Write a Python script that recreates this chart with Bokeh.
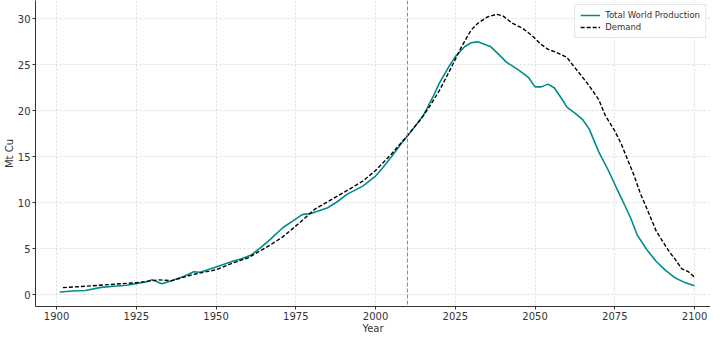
from bokeh.plotting import figure
from bokeh.models import Span, Legend, LegendItem, FixedTicker, Range1d
from bokeh.embed import file_html
from bokeh.resources import INLINE

prod_years = [1901, 1905, 1909, 1914, 1918, 1922, 1928, 1930, 1933, 1936, 1940, 1943, 1945,
              1950, 1955, 1958, 1961, 1964, 1967, 1971, 1974, 1977, 1980, 1985, 1988, 1991,
              1996, 2000, 2002, 2005, 2008, 2011, 2015, 2018, 2020, 2023, 2025, 2028, 2030,
              2032, 2036, 2039, 2041, 2045, 2048, 2050, 2052, 2054, 2056, 2058, 2060, 2063,
              2065, 2067, 2070, 2073, 2075, 2078, 2080, 2082, 2085, 2088, 2091, 2094, 2097, 2100]
prod_values = [0.27, 0.38, 0.44, 0.78, 0.9, 1.02, 1.36, 1.6, 1.18, 1.5, 2.0, 2.48, 2.43,
               3.0, 3.6, 3.9, 4.3, 5.1, 6.0, 7.3, 8.0, 8.7, 8.85, 9.45, 10.1, 10.9,
               11.8, 12.9, 13.7, 15.0, 16.4, 17.7, 19.5, 21.5, 23.0, 24.8, 25.9, 27.0, 27.4,
               27.5, 27.0, 26.0, 25.3, 24.4, 23.6, 22.6, 22.6, 22.9, 22.5, 21.5, 20.4, 19.6,
               19.0, 18.0, 15.5, 13.5, 12.0, 9.8, 8.3, 6.5, 4.9, 3.6, 2.6, 1.8, 1.3, 0.95]

dem_years = [1902, 1909, 1915, 1925, 1932, 1936, 1940, 1943, 1950, 1955, 1960, 1964, 1967,
             1971, 1976, 1981, 1985, 1991, 1996, 2000, 2005, 2010, 2014, 2017, 2020, 2023,
             2027, 2030, 2032, 2035, 2038, 2040, 2043, 2046, 2049, 2052, 2054, 2057, 2060,
             2062, 2065, 2067, 2070, 2072, 2075, 2077, 2079, 2081, 2083, 2085, 2088, 2090,
             2092, 2094, 2096, 2098, 2100]
dem_values = [0.75, 0.9, 1.05, 1.29, 1.6, 1.5, 1.9, 2.2, 2.7, 3.4, 4.0, 4.8, 5.4,
              6.3, 7.75, 9.3, 10.1, 11.3, 12.35, 13.5, 15.3, 17.3, 19.0, 20.5, 22.2, 24.2,
              27.0, 28.8, 29.5, 30.2, 30.5, 30.3, 29.5, 29.0, 28.2, 27.2, 26.7, 26.3, 25.8,
              24.9, 23.6, 22.7, 21.2, 19.5, 17.8, 16.4, 14.7, 13.0, 11.0, 9.4, 6.9, 5.8,
              4.7, 3.8, 2.8, 2.5, 1.9]

x_ticks = [1900, 1925, 1950, 1975, 2000, 2025, 2050, 2075, 2100]
y_ticks = [0, 5, 10, 15, 20, 25, 30]
marker_year = 2010

p = figure(width=710, height=336, output_backend="svg", toolbar_location=None,
           x_range=Range1d(1893.4, 2105.0), y_range=Range1d(-1.3, 32.0),
           min_border_left=0, min_border_right=0, min_border_top=0, min_border_bottom=0)
p.outline_line_color = None
p.background_fill_color = "white"

r1 = p.line(prod_years, prod_values, line_color="#008b8b", line_width=1.6)
r2 = p.line(dem_years, dem_values, line_color="black", line_width=1.4, line_dash="4 2")

p.add_layout(Span(location=marker_year, dimension="height", line_color="#888888",
                  line_width=1, line_dash="4 2"))

for ax in (p.xaxis[0], p.yaxis[0]):
    ax.axis_line_color = "#333333"
    ax.axis_line_width = 1
    ax.major_tick_line_color = "#333333"
    ax.major_tick_out = 3
    ax.major_tick_in = 0
    ax.minor_tick_line_color = None
    ax.major_label_text_font = "DejaVu Sans"
    ax.major_label_text_font_size = "10px"
    ax.major_label_text_color = "#333333"
    ax.axis_label_text_font = "DejaVu Sans"
    ax.axis_label_text_font_size = "10px"
    ax.axis_label_text_font_style = "normal"
    ax.axis_label_text_color = "#333333"
    ax.major_label_standoff = 2
    ax.axis_label_standoff = 0

p.xaxis.ticker = FixedTicker(ticks=x_ticks)
p.yaxis.ticker = FixedTicker(ticks=y_ticks)
p.xaxis.axis_label = "Year"
p.yaxis.axis_label = "Mt Cu"

p.grid.grid_line_color = "#d4d4d4"
p.grid.grid_line_dash = "2 2"
p.grid.grid_line_width = 0.8
p.xgrid.ticker = FixedTicker(ticks=x_ticks)
p.ygrid.ticker = FixedTicker(ticks=y_ticks)

legend = Legend(items=[LegendItem(label="Total World Production", renderers=[r1]),
                       LegendItem(label="Demand", renderers=[r2])],
                location="top_right")
legend.label_text_font = "DejaVu Sans"
legend.label_text_font_size = "8.5px"
legend.label_text_color = "#333333"
legend.border_line_color = "#cccccc"
legend.background_fill_alpha = 0.9
legend.glyph_width = 20
legend.glyph_height = 10
legend.label_height = 10
legend.spacing = 2
legend.padding = 5
legend.margin = 4
p.add_layout(legend)

open("out.html", "w").write(file_html(p, INLINE))
